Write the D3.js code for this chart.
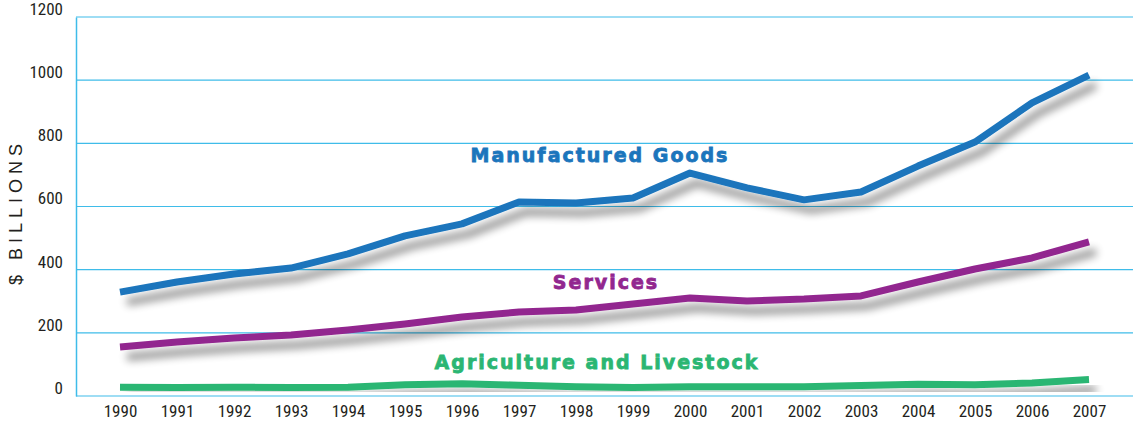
<!DOCTYPE html>
<html>
<head>
<meta charset="utf-8">
<script src="https://cdn.jsdelivr.net/npm/d3@7"></script>
<style>
  html, body { margin: 0; padding: 0; background: #fff; }
  svg { display: block; }
  .tick text { font-family: "Liberation Sans Narrow", "Roboto", sans-serif; font-stretch: condensed; }
</style>
</head>
<body>
<svg id="chart" width="1133" height="425"></svg>
<script>
// Exports by category, $ billions
const years = [1990, 1991, 1992, 1993, 1994, 1995, 1996, 1997, 1998, 1999,
               2000, 2001, 2002, 2003, 2004, 2005, 2006, 2007];
const manufactured = [329, 361, 386, 405, 450, 507, 545, 614, 611, 627,
                      706, 659, 621, 646, 728, 804, 928, 1016];
const services = [155, 171, 184, 193, 209, 228, 250, 266, 272, 291,
                  310, 301, 307, 317, 361, 402, 437, 488];
const agriculture = [28, 27, 28, 27, 28, 36, 39, 34, 29, 27,
                     29, 29, 29, 33, 37, 36, 41, 52];
const yTicks = [0, 200, 400, 600, 800, 1000, 1200];

const series = [
  { name: "Manufactured Goods", values: manufactured, color: "#1b75bc", lx: 600, ly: 162 },
  { name: "Services", values: services, color: "#92278f", lx: 606, ly: 289 },
  { name: "Agriculture and Livestock", values: agriculture, color: "#2bb673", lx: 597, ly: 369 }
];

const svg = d3.select("#chart");
const plotLeft = 76, plotRight = 1133, plotTop = 17, plotBottom = 396;

const x = d3.scalePoint().domain(years).range([120, 1089]);
const y = d3.scaleLinear().domain([0, 1200]).range([plotBottom, plotTop]);

// drop shadow under each line
const defs = svg.append("defs");
const f = defs.append("filter").attr("id", "shadow")
  .attr("x", "-10%").attr("y", "-50%").attr("width", "120%").attr("height", "200%");
f.append("feGaussianBlur").attr("in", "SourceAlpha").attr("stdDeviation", 4.5).attr("result", "b");
f.append("feOffset").attr("in", "b").attr("dx", 7).attr("dy", 10).attr("result", "o");
f.append("feComponentTransfer").attr("in", "o").attr("result", "s")
  .append("feFuncA").attr("type", "linear").attr("slope", 0.45);
const m = f.append("feMerge");
m.append("feMergeNode").attr("in", "s");
m.append("feMergeNode").attr("in", "SourceGraphic");

// horizontal gridlines
svg.append("g")
  .selectAll("line")
  .data(yTicks)
  .join("line")
  .attr("x1", plotLeft).attr("x2", plotRight)
  .attr("y1", d => y(d)).attr("y2", d => y(d))
  .attr("stroke", "#3fbce9").attr("stroke-width", 1.2);

// y axis
const yAxis = svg.append("g")
  .attr("transform", `translate(${plotLeft},0)`)
  .call(d3.axisLeft(y).tickValues(yTicks).tickSize(0).tickPadding(13).tickFormat(d3.format("d")));
yAxis.select(".domain").attr("stroke", "#3fbce9").attr("stroke-width", 1.5);
yAxis.selectAll(".tick text").attr("font-size", 17).attr("fill", "#231f20").attr("dy", "-0.15em");

// x axis
const xAxis = svg.append("g")
  .attr("transform", `translate(0,${plotBottom})`)
  .call(d3.axisBottom(x).tickSize(0).tickPadding(9).tickFormat(d3.format("d")));
xAxis.select(".domain").remove();
xAxis.selectAll(".tick text").attr("font-size", 17).attr("fill", "#231f20");

// y axis title
svg.append("text")
  .attr("transform", "translate(22,212) rotate(-90)")
  .attr("text-anchor", "middle")
  .attr("font-family", "Liberation Sans, Arial, sans-serif")
  .attr("font-size", 18)
  .attr("letter-spacing", "5px")
  .attr("fill", "#231f20")
  .text("$ BILLIONS");

const line = d3.line()
  .x((d, i) => x(years[i]))
  .y(d => y(d));

svg.append("g")
  .selectAll("path")
  .data(series)
  .join("path")
  .attr("d", d => line(d.values))
  .attr("fill", "none")
  .attr("stroke", d => d.color)
  .attr("stroke-width", 7)
  .attr("stroke-linejoin", "round")
  .attr("filter", "url(#shadow)");

// series labels
svg.append("g")
  .selectAll("text")
  .data(series)
  .join("text")
  .attr("x", d => d.lx)
  .attr("y", d => d.ly)
  .attr("text-anchor", "middle")
  .attr("font-family", "DejaVu Sans, sans-serif")
  .attr("font-weight", "bold")
  .attr("font-size", 19)
  .attr("letter-spacing", "2px")
  .attr("fill", d => d.color)
  .attr("stroke", d => d.color)
  .attr("stroke-width", 0.8)
  .text(d => d.name);
</script>
</body>
</html>
